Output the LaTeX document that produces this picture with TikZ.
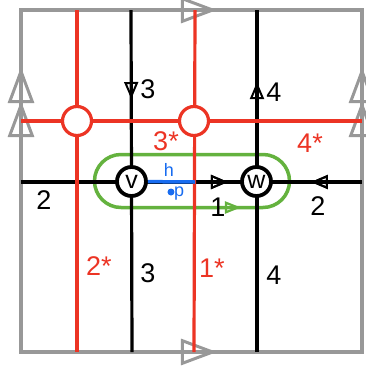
\documentclass[tikz,border=0pt]{standalone}
\usepackage{fontspec}
\setmainfont{Liberation Sans}
\usetikzlibrary{arrows.meta,decorations.markings}
\definecolor{fgray}{RGB}{152,152,152}
\definecolor{cred}{RGB}{236,52,36}
\definecolor{cgreen}{RGB}{100,178,62}
\definecolor{cblue}{RGB}{24,108,240}
\tikzset{
  frame/.style ={draw=fgray,line width=3.5pt},
  blk/.style   ={draw=black,line width=3.2pt},
  dual/.style  ={draw=cred,line width=3.2pt},
  hedge/.style ={draw=cblue,line width=3.5pt},
  loopp/.style ={draw=cgreen,line width=3.5pt,rounded corners=26.5pt},
  vert/.style  ={circle,draw=black,fill=white,line width=3.8pt,
                 minimum size=29pt,inner sep=0pt,font=\fontsize{25}{25}\selectfont},
  face/.style  ={circle,draw=cred,fill=white,line width=3.2pt,
                 minimum size=29pt,inner sep=0pt},
  pdot/.style  ={circle,fill=cblue,inner sep=0pt,minimum size=7pt},
  lbl/.style   ={font=\fontsize{27}{27}\selectfont,inner sep=0pt},
  rlbl/.style  ={lbl,text=cred},
  small/.style ={font=\fontsize{18}{18}\selectfont,inner sep=0pt,text=cblue},
  gtri/.tip    ={Triangle[open,length=36pt,width=26pt,line width=3pt]},
  btri/.tip    ={Triangle[open,length=17pt,width=14pt,line width=2pt]},
  ntri/.tip    ={Triangle[open,length=16pt,width=12pt,line width=2.2pt]},
  ptip/.style 2 args={postaction={decorate},
                 decoration={markings,mark=at position #1 with {\arrow{#2}}}},
  ptipr/.style 2 args={postaction={decorate},
                 decoration={markings,mark=at position #1 with {\arrowreversed{#2}}}},
}

\begin{document}
\begin{tikzpicture}[x=1pt,y=-1pt]
\useasboundingbox (0,0) rectangle (366,368);
% frame corners
\coordinate (TL) at (21,10);  \coordinate (TR) at (362,10);
\coordinate (BL) at (21,352); \coordinate (BR) at (362,352);
% line ends
\coordinate (r1t) at (77,10);  \coordinate (r1b) at (77,352);
\coordinate (r2t) at (195,10); \coordinate (r2b) at (194,352);
\coordinate (b1t) at (131,10); \coordinate (b1b) at (132,352);
\coordinate (b2t) at (257,10); \coordinate (b2b) at (257,352);
\coordinate (hl) at (21,182);  \coordinate (hr) at (362,182);
\coordinate (rl) at (21,121);  \coordinate (rr) at (362,121);
\coordinate (hend) at (195,182);
\coordinate (g1) at (150,207.5); \coordinate (g2) at (262,207.5);

\draw[frame] (TL) rectangle (BR);
\draw[frame,ptip={196pt}{gtri}] (TL) -- (TR);
\draw[frame,ptip={196pt}{gtri}] (BL) -- (BR);
\draw[frame,postaction={decorate},decoration={markings,
      mark=at position 251pt with {\arrow{gtri}},
      mark=at position 285pt with {\arrow{gtri}}}] (BL) -- (TL);
\draw[frame,postaction={decorate},decoration={markings,
      mark=at position 251pt with {\arrow{gtri}},
      mark=at position 285pt with {\arrow{gtri}}}] (BR) -- (TR);

% green loop
\draw[loopp] (94.5,154.5) rectangle (289.5,207.5);
\draw[loopp,ptip={91pt}{ntri}] (g1) -- (g2);

% black edges
\draw[blk,ptip={89pt}{btri}] (b1t) -- (b1b);
\draw[blk,ptip={270pt}{btri}] (b2b) -- (b2t);
\draw[blk,ptip={207pt}{btri},ptipr={290pt}{btri}] (hl) -- (hr);

% red dual edges
\draw[dual] (r1t) -- (r1b);
\draw[dual] (r2t) -- (r2b);
\draw[dual] (rl) -- (rr);
\node[face] (f1) at (77,121) {};
\node[face] (f2) at (194,121) {};

% vertices
\node[vert] (v) at (131.5,181.5) {v};
\node[vert] (w) at (256.5,181.5) {w};
\draw[hedge] (v) -- (hend);
\node[pdot] (p) at (171,192) {};
\node[small] (hl1) at (169,170) {h};
\node[small,anchor=west] (pl) at (174,194) {p};

% labels
\node[lbl] (l3a) at (148,89) {3};
\node[lbl] (l4a) at (274,92) {4};
\node[lbl] (l2a) at (44,200) {2};
\node[lbl] (l2b) at (318,206) {2};
\node[lbl] (l1)  at (218,207) {1};
\node[lbl] (l3b) at (148,273) {3};
\node[lbl] (l4b) at (274,275) {4};
\node[rlbl] (s3) at (166,141) {3*};
\node[rlbl] (s4) at (310,143) {4*};
\node[rlbl] (s2) at (99,266) {2*};
\node[rlbl] (s1) at (212,268) {1*};
\end{tikzpicture}
\end{document}
